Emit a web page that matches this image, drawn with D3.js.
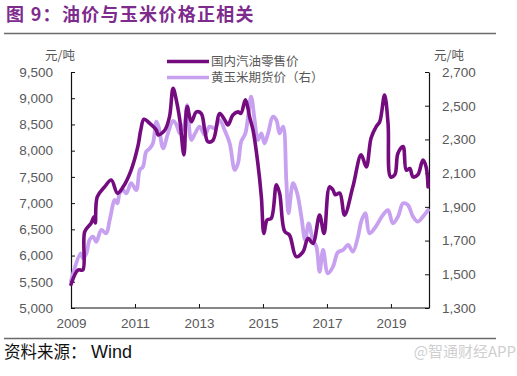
<!DOCTYPE html>
<html>
<head>
<meta charset="utf-8">
<script src="https://cdn.jsdelivr.net/npm/d3@7"></script>
<style>
body { margin: 0; background: #fff; }
svg { display: block; font-family: "Liberation Sans", Arial, "Noto Sans CJK SC", sans-serif; }
</style>
</head>
<body>
<svg width="517" height="376"></svg>
<script>
// decimal years
var oilDates = [2009.00, 2009.22, 2009.37, 2009.43, 2009.63, 2009.72, 2009.76, 2009.82, 2010.05, 2010.26,
  2010.45, 2010.63, 2010.88, 2011.09, 2011.18, 2011.28, 2011.46, 2011.67, 2011.72, 2011.93,
  2012.08, 2012.19, 2012.29, 2012.40, 2012.53, 2012.63, 2012.76, 2012.92, 2013.07, 2013.18,
  2013.28, 2013.44, 2013.65, 2013.80, 2013.91, 2014.06, 2014.22, 2014.31, 2014.45, 2014.53,
  2014.58, 2014.69, 2014.84, 2014.95, 2015.03, 2015.13, 2015.26, 2015.42, 2015.52, 2015.68,
  2015.83, 2016.04, 2016.25, 2016.41, 2016.56, 2016.77, 2016.91, 2017.08, 2017.19, 2017.26,
  2017.40, 2017.55, 2017.81, 2018.07, 2018.23, 2018.38, 2018.54, 2018.65, 2018.80, 2018.91,
  2018.99, 2019.12, 2019.22, 2019.38, 2019.48, 2019.59, 2019.69, 2019.84, 2020.00, 2020.10, 2020.16];
var oilPrice = [5450, 5725, 5725, 6455, 6620, 6740, 6620, 7120, 7310, 7440,
  7190, 7310, 7630, 8080, 8390, 8600, 8520, 8390, 8300, 8390,
  8650, 9190, 8970, 8590, 7920, 8840, 8550, 8740, 8710, 8390,
  8170, 8200, 8710, 8590, 8490, 8680, 8740, 8710, 8970, 8810,
  8650, 8390, 7760, 7120, 6420, 6680, 6710, 7350, 7190, 6460,
  6390, 5980, 6070, 6330, 6230, 6770, 6420, 7310, 7250, 7160,
  7190, 6770, 7310, 7920, 7690, 8240, 8460, 8550, 9060, 8520,
  7500, 7540, 7950, 8080, 7630, 7660, 7500, 7540, 7820, 7690, 7310];

var cornDates = [2009.00, 2009.30, 2009.37, 2009.48, 2009.58, 2009.69, 2009.79, 2009.95, 2010.10, 2010.21,
  2010.37, 2010.45, 2010.52, 2010.63, 2010.73, 2010.88, 2011.04, 2011.15, 2011.25, 2011.35,
  2011.46, 2011.56, 2011.67, 2011.74, 2011.88, 2012.03, 2012.19, 2012.29, 2012.40, 2012.55,
  2012.63, 2012.76, 2012.88, 2013.02, 2013.18, 2013.33, 2013.49, 2013.65, 2013.80, 2013.96,
  2014.12, 2014.22, 2014.32, 2014.45, 2014.55, 2014.63, 2014.74, 2014.84, 2014.95, 2015.05,
  2015.16, 2015.31, 2015.42, 2015.52, 2015.63, 2015.73, 2015.80, 2015.94, 2016.07, 2016.20,
  2016.32, 2016.43, 2016.56, 2016.67, 2016.77, 2016.88, 2017.03, 2017.19, 2017.34, 2017.50,
  2017.66, 2017.81, 2017.97, 2018.07, 2018.20, 2018.33, 2018.49, 2018.65, 2018.75, 2018.91,
  2019.06, 2019.22, 2019.38, 2019.53, 2019.69, 2019.84, 2020.00, 2020.16];
var cornPrice = [1460, 1624, 1595, 1624, 1703, 1723, 1693, 1763, 1743, 1822,
  1941, 1921, 1980, 2000, 1980, 2040, 2000, 2119, 2138, 2227,
  2247, 2277, 2405, 2375, 2247, 2336, 2410, 2390, 2336, 2396,
  2504, 2297, 2336, 2376, 2326, 2376, 2366, 2415, 2356, 2277,
  2119, 2158, 2287, 2336, 2460, 2554, 2415, 2297, 2336, 2277,
  2336, 2435, 2415, 2336, 2376, 2059, 1862, 2040, 1980, 1842,
  1703, 1802, 1703, 1664, 1515, 1644, 1505, 1545, 1630, 1644,
  1674, 1634, 1723, 1812, 1862, 1743, 1773, 1822, 1852, 1881,
  1802, 1842, 1921, 1911, 1842, 1812, 1842, 1881];

var yearTicks = [2009, 2011, 2013, 2015, 2017, 2019];
var leftTicks = [5000, 5500, 6000, 6500, 7000, 7500, 8000, 8500, 9000, 9500];
var rightTicks = [1300, 1500, 1700, 1900, 2100, 2300, 2500, 2700];
var seriesNames = ["国内汽油零售价", "黄玉米期货价（右）"];

var svg = d3.select("svg");
var plotLeft = 71, plotRight = 429, plotTop = 72, plotBottom = 308;
var darkColor = "#740c80", lightColor = "#c8a0f0", textColor = "#595959";

var x = d3.scaleLinear().domain([2009, 2020.19]).range([plotLeft, plotRight]);
var yL = d3.scaleLinear().domain([5000, 9500]).range([plotBottom, plotTop]);
var yR = d3.scaleLinear().domain([1300, 2700]).range([plotBottom, plotTop]);

// title
svg.append("text").attr("x", 6).attr("y", 21)
  .attr("fill", "#7e2b8e").attr("font-size", 18).attr("font-weight", "bold")
  .attr("letter-spacing", 1.3)
  .attr("font-family", "'Noto Sans CJK SC', sans-serif")
  .text("图 9：油价与玉米价格正相关");
svg.append("line").attr("x1", 4).attr("x2", 496).attr("y1", 33.5).attr("y2", 33.5)
  .attr("stroke", "#6a6a6a").attr("stroke-width", 1.5);

// axes
var gx = svg.append("g").attr("transform", "translate(0," + plotBottom + ")")
  .call(d3.axisBottom(x).tickValues(yearTicks).tickFormat(d3.format("d")).tickSizeInner(-4).tickSizeOuter(0).tickPadding(10));
var gl = svg.append("g").attr("transform", "translate(" + plotLeft + ",0)")
  .call(d3.axisLeft(yL).tickValues(leftTicks).tickFormat(d3.format(",")).tickSizeInner(-4).tickSizeOuter(0).tickPadding(18));
var gr = svg.append("g").attr("transform", "translate(" + plotRight + ",0)")
  .call(d3.axisRight(yR).tickValues(rightTicks).tickFormat(d3.format(",")).tickSizeInner(-4).tickSizeOuter(0).tickPadding(13));

[gx, gl, gr].forEach(function(g) {
  g.select(".domain").attr("stroke", "#111").attr("stroke-width", 1.2);
  g.selectAll(".tick line").attr("stroke", "#111");
  g.selectAll(".tick text").attr("fill", textColor).attr("font-size", 13.5)
    .attr("font-family", "'Liberation Sans', Arial, sans-serif");
});
gx.select(".domain").attr("d", "M" + plotLeft + ",0H" + plotRight);

// unit labels
svg.append("text").attr("x", 45).attr("y", 60).attr("fill", textColor).attr("font-size", 12.5)
  .attr("font-family", "'Noto Sans CJK SC', sans-serif").text("元/吨");
svg.append("text").attr("x", 434).attr("y", 60).attr("fill", textColor).attr("font-size", 12.5)
  .attr("font-family", "'Noto Sans CJK SC', sans-serif").text("元/吨");

// lines
var oil = oilDates.map(function(d, i) { return [d, oilPrice[i]]; });
var corn = cornDates.map(function(d, i) { return [d, cornPrice[i]]; });

svg.append("path").datum(corn)
  .attr("fill", "none").attr("stroke", lightColor).attr("stroke-width", 3.8)
  .attr("stroke-linejoin", "round").attr("stroke-linecap", "round")
  .attr("d", d3.line().x(function(d) { return x(d[0]); }).y(function(d) { return yR(d[1]); }).curve(d3.curveCatmullRom.alpha(0.5)));

svg.append("path").datum(oil)
  .attr("fill", "none").attr("stroke", darkColor).attr("stroke-width", 3.6)
  .attr("stroke-linejoin", "round").attr("stroke-linecap", "round")
  .attr("d", d3.line().x(function(d) { return x(d[0]); }).y(function(d) { return yL(d[1]); }).curve(d3.curveCatmullRom.alpha(0.5)));

// legend
var legend = svg.append("g");
[darkColor, lightColor].forEach(function(c, i) {
  var ly = 61.5 + i * 16;
  legend.append("line").attr("x1", 167).attr("x2", 209).attr("y1", ly).attr("y2", ly)
    .attr("stroke", c).attr("stroke-width", 3.6);
  legend.append("text").attr("x", 211).attr("y", ly + 4.5).attr("fill", textColor)
    .attr("font-size", 12.5).attr("font-family", "'Noto Sans CJK SC', sans-serif")
    .text(seriesNames[i]);
});

// footer
svg.append("line").attr("x1", 4).attr("x2", 496).attr("y1", 338.5).attr("y2", 338.5)
  .attr("stroke", "#6a6a6a").attr("stroke-width", 1.5);
svg.append("text").attr("x", 4).attr("y", 358).attr("fill", "#111").attr("font-size", 16.5)
  .attr("font-family", "'Noto Sans CJK SC', sans-serif").text("资料来源：");
svg.append("text").attr("x", 91).attr("y", 358).attr("fill", "#111").attr("font-size", 18)
  .attr("font-family", "'Liberation Sans', Arial, sans-serif").text("Wind");
svg.append("text").attr("x", 516).attr("y", 357).attr("text-anchor", "end").attr("fill", "#cfcfcf")
  .attr("font-size", 15).attr("font-family", "'Noto Sans CJK SC', sans-serif").text("@智通财经APP");
</script>
</body>
</html>
